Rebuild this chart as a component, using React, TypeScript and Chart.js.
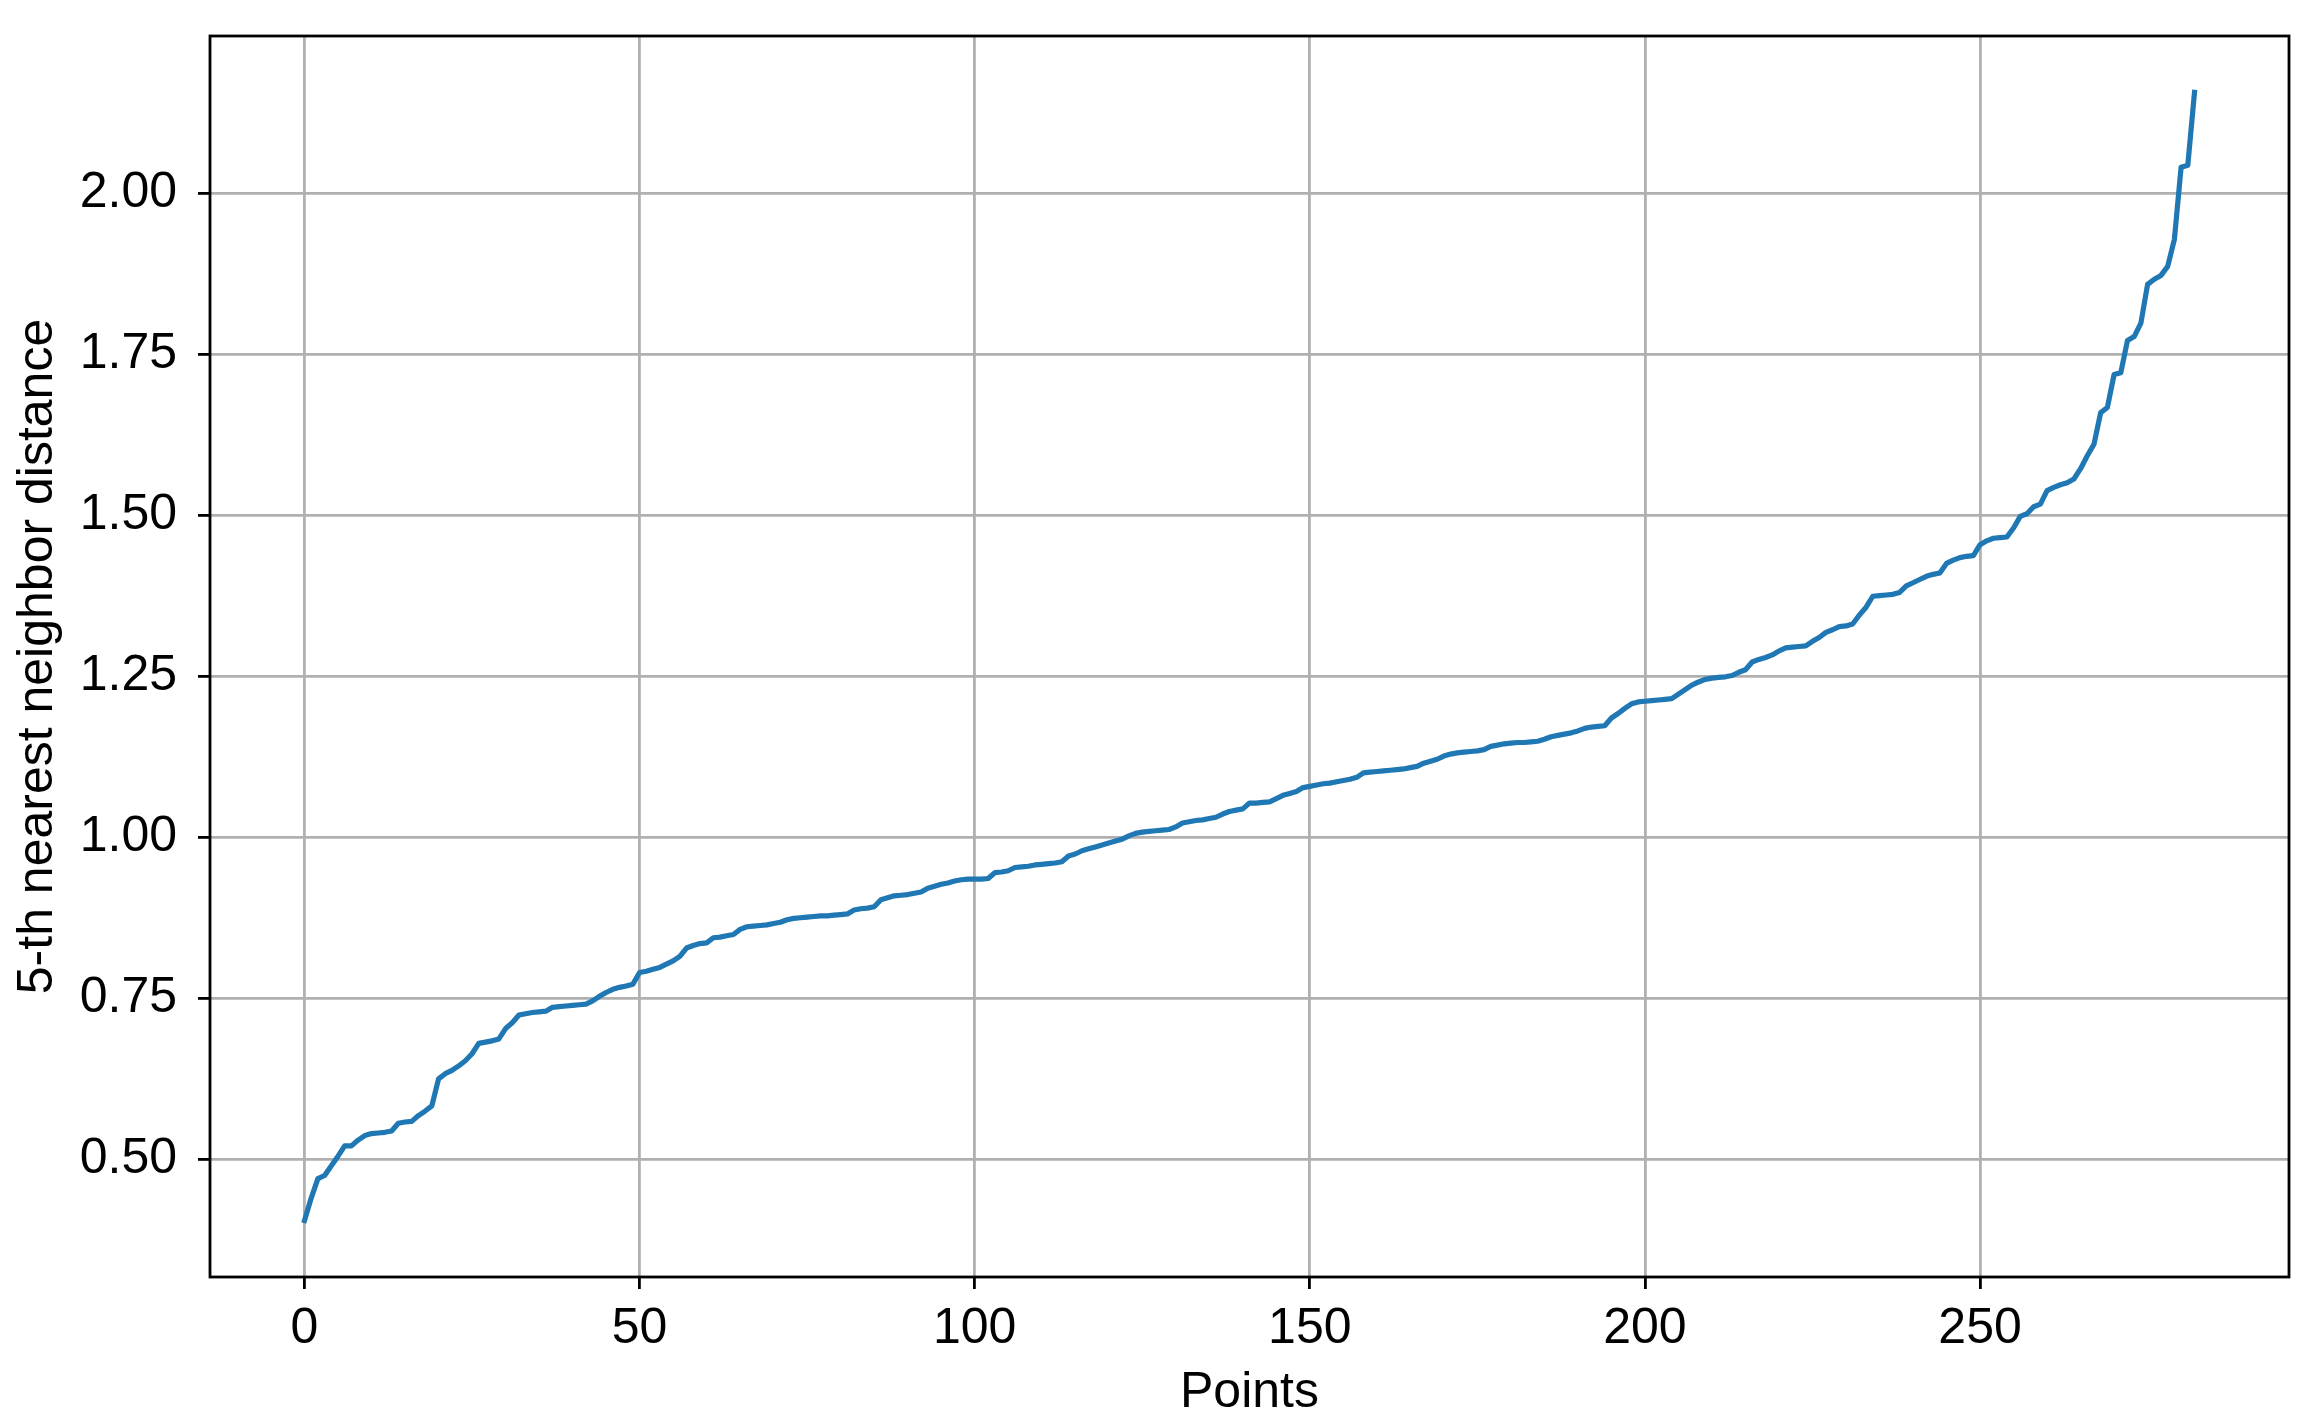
import React, { useEffect, useRef } from "react";
import { Chart, registerables } from "chart.js";

Chart.register(...registerables);

// 5-th nearest neighbor distance, sorted (index 0..282)
const distances: number[] = [
  0.405, 0.440, 0.470, 0.475, 0.490, 0.505, 0.521, 0.521, 0.530, 0.537,
  0.540, 0.541, 0.542, 0.544, 0.556, 0.558, 0.559, 0.568, 0.575, 0.583,
  0.625, 0.633, 0.638, 0.645, 0.653, 0.664, 0.680, 0.682, 0.684, 0.687,
  0.703, 0.712, 0.724, 0.726, 0.728, 0.729, 0.730, 0.736, 0.737, 0.738,
  0.739, 0.740, 0.741, 0.746, 0.753, 0.759, 0.764, 0.767, 0.769, 0.772,
  0.790, 0.792, 0.795, 0.798, 0.803, 0.808, 0.815, 0.828, 0.832, 0.835,
  0.836, 0.844, 0.845, 0.847, 0.849, 0.857, 0.861, 0.862, 0.863, 0.864,
  0.866, 0.868, 0.872, 0.874, 0.875, 0.876, 0.877, 0.878, 0.878, 0.879,
  0.880, 0.881, 0.887, 0.889, 0.890, 0.892, 0.903, 0.906, 0.909, 0.910,
  0.911, 0.913, 0.915, 0.921, 0.924, 0.927, 0.929, 0.932, 0.934, 0.935,
  0.935, 0.935, 0.936, 0.945, 0.946, 0.948, 0.953, 0.954, 0.955, 0.957,
  0.958, 0.959, 0.960, 0.962, 0.971, 0.974, 0.979, 0.982, 0.985, 0.988,
  0.991, 0.994, 0.997, 1.002, 1.006, 1.008, 1.009, 1.010, 1.011, 1.012,
  1.016, 1.022, 1.024, 1.026, 1.027, 1.029, 1.031, 1.036, 1.040, 1.042,
  1.044, 1.053, 1.053, 1.054, 1.055, 1.060, 1.065, 1.068, 1.071, 1.077,
  1.079, 1.081, 1.083, 1.084, 1.086, 1.088, 1.090, 1.093, 1.100, 1.101,
  1.102, 1.103, 1.104, 1.105, 1.106, 1.108, 1.110, 1.115, 1.118, 1.121,
  1.126, 1.129, 1.131, 1.132, 1.133, 1.134, 1.136, 1.141, 1.143, 1.145,
  1.146, 1.147, 1.147, 1.148, 1.149, 1.152, 1.156, 1.158, 1.160, 1.162,
  1.165, 1.169, 1.171, 1.172, 1.173, 1.185, 1.192, 1.200, 1.207, 1.210,
  1.211, 1.212, 1.213, 1.214, 1.215, 1.222, 1.229, 1.236, 1.241, 1.245,
  1.247, 1.248, 1.249, 1.251, 1.256, 1.260, 1.272, 1.276, 1.279, 1.283,
  1.289, 1.294, 1.295, 1.296, 1.297, 1.304, 1.310, 1.318, 1.322, 1.327,
  1.328, 1.331, 1.345, 1.357, 1.374, 1.375, 1.376, 1.377, 1.380, 1.390,
  1.395, 1.400, 1.405, 1.408, 1.410, 1.425, 1.430, 1.434, 1.436, 1.437,
  1.454, 1.460, 1.464, 1.465, 1.466, 1.480, 1.498, 1.502, 1.513, 1.517,
  1.538, 1.543, 1.547, 1.550, 1.556, 1.572, 1.592, 1.610, 1.659, 1.667,
  1.718, 1.721, 1.771, 1.777, 1.798, 1.858, 1.866, 1.872, 1.886, 1.928,
  2.040, 2.043, 2.156,
];

const xTickValues: number[] = [0, 50, 100, 150, 200, 250];
const yTickValues: number[] = [0.5, 0.75, 1.0, 1.25, 1.5, 1.75, 2.0];

const xTitle = "Points";
const yTitle = "5-th nearest neighbor distance";

const W = 2324;
const H = 1427;
const FONT = "'Liberation Sans', Arial, Helvetica, sans-serif";

const framePlugin = {
  id: "frame",
  afterDatasetsDraw(chart: any) {
    const { ctx, chartArea } = chart;
    ctx.save();
    ctx.strokeStyle = "#000";
    ctx.lineWidth = 2.8;
    ctx.lineJoin = "miter";
    ctx.strokeRect(
      chartArea.left,
      chartArea.top,
      chartArea.right - chartArea.left,
      chartArea.bottom - chartArea.top
    );
    ctx.restore();
  },
};

export default function App() {
  const ref = useRef<HTMLCanvasElement | null>(null);

  useEffect(() => {
    if (!ref.current) return;
    const n = distances.length;
    const xPad = (n - 1) * 0.05;
    const yMinV = Math.min(...distances);
    const yMaxV = Math.max(...distances);
    const yPad = (yMaxV - yMinV) * 0.05;

    const chart = new Chart(ref.current, {
      type: "line",
      data: {
        datasets: [
          {
            data: distances.map((v, i) => ({ x: i, y: v })),
            borderColor: "#1f77b4",
            borderWidth: 5.2,
            pointRadius: 0,
            tension: 0,
            fill: false,
            borderJoinStyle: "round",
            borderCapStyle: "square",
          },
        ],
      },
      options: {
        responsive: false,
        animation: false,
        devicePixelRatio: 1,
        layout: { padding: { top: 36, right: 35, left: 0, bottom: 0 } },
        plugins: {
          legend: { display: false },
          tooltip: { enabled: false },
        },
        scales: {
          x: {
            type: "linear",
            min: -xPad,
            max: n - 1 + xPad,
            afterFit: (scale: any) => {
              scale.height = 150;
              scale.paddingLeft = 0;
              scale.paddingRight = 0;
            },
            afterBuildTicks: (scale: any) => {
              scale.ticks = xTickValues.map((v) => ({ value: v }));
            },
            grid: {
              color: "#b0b0b0",
              lineWidth: 2.8,
              tickColor: "#000",
              tickLength: 12,
              tickWidth: 2.8,
              drawTicks: true,
            },
            border: { display: false },
            ticks: {
              autoSkip: false,
              maxRotation: 0,
              minRotation: 0,
              padding: 10,
              color: "#000",
              font: { family: FONT, size: 50 },
              callback: (v: any) => String(v),
            },
            title: {
              display: true,
              text: xTitle,
              color: "#000",
              font: { family: FONT, size: 50 },
              padding: { top: 0, bottom: 4 },
            },
          },
          y: {
            type: "linear",
            min: yMinV - yPad,
            max: yMaxV + yPad,
            afterFit: (scale: any) => {
              scale.width = 210;
              scale.paddingTop = 0;
              scale.paddingBottom = 0;
            },
            afterBuildTicks: (scale: any) => {
              scale.ticks = yTickValues.map((v) => ({ value: v }));
            },
            grid: {
              color: "#b0b0b0",
              lineWidth: 2.8,
              tickColor: "#000",
              tickLength: 12,
              tickWidth: 2.8,
              drawTicks: true,
            },
            border: { display: false },
            ticks: {
              autoSkip: false,
              padding: 21,
              color: "#000",
              font: { family: FONT, size: 50 },
              callback: (v: any) => Number(v).toFixed(2),
            },
            title: {
              display: true,
              text: yTitle,
              color: "#000",
              font: { family: FONT, size: 50 },
              padding: { top: 8, bottom: 0 },
            },
          },
        },
      },
      plugins: [framePlugin],
    } as any);

    return () => chart.destroy();
  }, []);

  return (
    <div
      style={{
        position: "absolute",
        left: 0,
        top: 0,
        width: W,
        height: H,
        background: "#fff",
      }}
    >
      <canvas
        ref={ref}
        width={W}
        height={H}
        style={{ display: "block", width: W, height: H }}
      />
    </div>
  );
}
